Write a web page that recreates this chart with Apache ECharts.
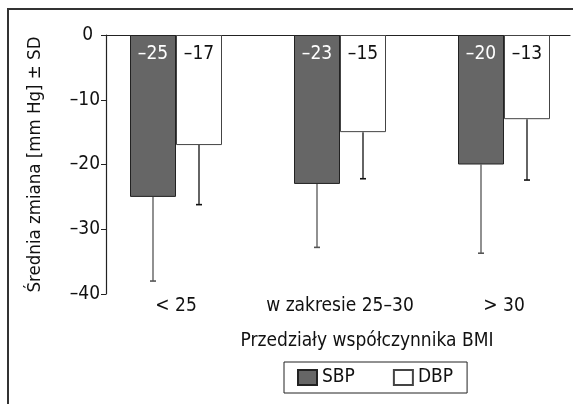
<!DOCTYPE html>
<html>
<head>
<meta charset="utf-8">
<script src="https://cdn.jsdelivr.net/npm/echarts@6/dist/echarts.min.js"></script>
<style>
html,body{margin:0;padding:0;background:#fff;}
#chart{width:573px;height:404px;}
</style>
</head>
<body>
<div id="chart"></div>
<script>
var categories = ['< 25', 'w zakresie 25–30', '> 30'];
var sbpMean = [-25, -23, -20];
var dbpMean = [-17, -15, -13];
var sbpSD = [13, 9.8, 13.7];
var dbpSD = [9.2, 7.2, 9.4];
var yTicks = [-40, -30, -20, -10, 0];

var FONT = '"DejaVu Sans Condensed", "DejaVu Sans", sans-serif';
var FS = 19;
function fmt(v) { return v < 0 ? '–' + Math.abs(v) : String(v); }

var chart = echarts.init(document.getElementById('chart'));

function errSeries(means, sds, side, color) {
  return {
    type: 'custom',
    xAxisIndex: 0, yAxisIndex: 0,
    z: 1,
    silent: true,
    clip: false,
    data: means.map(function (m, i) { return [i, m, m - sds[i]]; }),
    renderItem: function (params, api) {
      var c = api.value(0);
      var p1 = api.coord([c, api.value(1)]);
      var p2 = api.coord([c, api.value(2)]);
      var x = p1[0] + side * 23;
      return {
        type: 'group',
        children: [
          { type: 'line', shape: { x1: x, y1: p1[1], x2: x, y2: p2[1] }, style: { stroke: color, lineWidth: 1.3 } },
          { type: 'line', shape: { x1: x - 3, y1: p2[1], x2: x + 3, y2: p2[1] }, style: { stroke: color, lineWidth: 1.6 } }
        ]
      };
    }
  };
}

chart.setOption({
  animation: false,
  textStyle: { fontFamily: FONT },
  title: {
    text: 'Przedziały współczynnika BMI',
    left: 362, top: 327, textAlign: 'center',
    textStyle: { fontFamily: FONT, fontSize: FS, fontWeight: 'normal', color: '#111' }
  },
  legend: {
    left: 284, top: 362,
    data: ['SBP', 'DBP'],
    itemWidth: 19, itemHeight: 15, itemGap: 38,
    padding: [6, 14, 6, 13],
    borderColor: '#222', borderWidth: 1,
    icon: 'rect',
    textStyle: { fontFamily: FONT, fontSize: FS, color: '#111' }
  },
  grid: [
    { left: 94, right: -13, top: 35, bottom: 110, outerBoundsMode: 'none', containLabel: false },
    { left: 106, right: 3, top: 35, bottom: 110, outerBoundsMode: 'none', containLabel: false },
    { left: 8, top: 9, right: -20, bottom: -20, outerBoundsMode: 'none', containLabel: false, show: true, borderColor: '#333', borderWidth: 2, backgroundColor: 'transparent' }
  ],
  xAxis: [
    { type: 'category', gridIndex: 0, data: categories, position: 'bottom',
      axisLine: { show: false }, axisTick: { show: false },
      axisLabel: { interval: 0, margin: 3, fontFamily: FONT, fontSize: FS, color: '#111' } },
    { type: 'category', gridIndex: 1, data: categories, position: 'top',
      axisLine: { show: true, lineStyle: { color: '#222', width: 1.2 } }, axisTick: { show: false },
      axisLabel: { show: false } },
    { type: 'value', gridIndex: 2, show: false }
  ],
  yAxis: [
    { type: 'value', gridIndex: 0, min: -40, max: 0, interval: 10, show: false },
    { type: 'value', gridIndex: 1, min: -40, max: 0, interval: 10,
      name: 'Średnia zmiana [mm Hg] ± SD', nameLocation: 'middle', nameGap: 61,
      nameTextStyle: { fontFamily: FONT, fontSize: 18.5, color: '#111' },
      axisLine: { show: true, lineStyle: { color: '#222', width: 1.2 } },
      axisTick: { show: true, length: 5, lineStyle: { color: '#222' } },
      splitLine: { show: false },
      axisLabel: { margin: 6, fontFamily: FONT, fontSize: FS, color: '#111',
        formatter: function (v) { return v === 0 ? '{z|0}' : fmt(v); },
        rich: { z: { fontFamily: FONT, fontSize: FS, color: '#111', padding: [0, 7, 0, 0] } } } },
    { type: 'value', gridIndex: 2, show: false }
  ],
  series: [
    errSeries(sbpMean, sbpSD, -1, '#555'),
    errSeries(dbpMean, dbpSD, 1, '#111'),
    { name: 'SBP', type: 'bar', xAxisIndex: 0, yAxisIndex: 0, data: sbpMean,
      barWidth: 46, barGap: '0%', z: 2, clip: false,
      itemStyle: { color: '#666', borderColor: '#222', borderWidth: 1 },
      label: { show: true, position: 'insideTop', distance: 10, color: '#fff', fontFamily: FONT, fontSize: FS, formatter: function (p) { return fmt(p.value); } } },
    { name: 'DBP', type: 'bar', xAxisIndex: 0, yAxisIndex: 0, data: dbpMean,
      barWidth: 46, z: 2, clip: false,
      itemStyle: { color: '#fff', borderColor: '#444', borderWidth: 1 },
      label: { show: true, position: 'insideTop', distance: 10, color: '#111', fontFamily: FONT, fontSize: FS, formatter: function (p) { return fmt(p.value); } } }
  ]
});
</script>
</body>
</html>
